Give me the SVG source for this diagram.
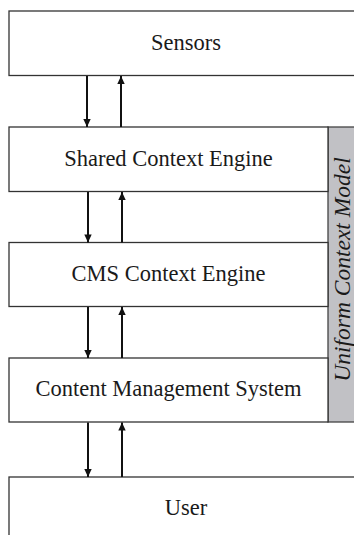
<svg xmlns="http://www.w3.org/2000/svg" width="354" height="535" viewBox="0 0 354 535">
<style>
.box{fill:#fff;stroke:#333;stroke-width:1.3}
.lbl{font-family:"Liberation Serif","Times New Roman",serif;font-size:22.5px;fill:#1a1a1a;text-anchor:middle}
.arr{stroke:#111;stroke-width:2;fill:none}
</style>
<defs>
<marker id="ah" viewBox="0 0 8 12" refX="8" refY="6" markerWidth="9" markerHeight="12" markerUnits="userSpaceOnUse" orient="auto">
<path d="M0,2.3 L8,6 L0,9.7 Z" fill="#111"/>
</marker>
</defs>
<rect width="354" height="535" fill="#fff"/>
<g id="model">
<rect x="328" y="127" width="30" height="295" fill="#c1c1c5" stroke="#444" stroke-width="1.3"/>
<text class="lbl" transform="translate(349.5,269.5) rotate(-90)" style="font-style:italic;font-size:23.5px" fill="#2a2a2a">Uniform Context Model</text>
</g>
<g id="sensors">
<rect class="box" x="9" y="11" width="360" height="64.5"/>
<text class="lbl" x="186" y="50">Sensors</text>
</g>
<g id="shared">
<rect class="box" x="9" y="127" width="319" height="64.5"/>
<text class="lbl" x="168.5" y="166">Shared Context Engine</text>
</g>
<g id="cms">
<rect class="box" x="9" y="242.5" width="319" height="64"/>
<text class="lbl" x="168.5" y="281">CMS Context Engine</text>
</g>
<g id="content">
<rect class="box" x="9" y="358" width="319" height="64"/>
<text class="lbl" x="168.5" y="396">Content Management System</text>
</g>
<g id="user">
<rect class="box" x="9" y="477" width="360" height="80"/>
<text class="lbl" x="186" y="515">User</text>
</g>
<g id="connectors">
<line class="arr" x1="87" y1="76" x2="87" y2="127" marker-end="url(#ah)"/>
<line class="arr" x1="121" y1="127" x2="121" y2="76" marker-end="url(#ah)"/>
<line class="arr" x1="88" y1="192" x2="88" y2="242.5" marker-end="url(#ah)"/>
<line class="arr" x1="122" y1="242.5" x2="122" y2="192" marker-end="url(#ah)"/>
<line class="arr" x1="88" y1="307" x2="88" y2="358" marker-end="url(#ah)"/>
<line class="arr" x1="122" y1="358" x2="122" y2="307" marker-end="url(#ah)"/>
<line class="arr" x1="88" y1="422.5" x2="88" y2="477" marker-end="url(#ah)"/>
<line class="arr" x1="122" y1="477" x2="122" y2="422.5" marker-end="url(#ah)"/>
</g>
</svg>
